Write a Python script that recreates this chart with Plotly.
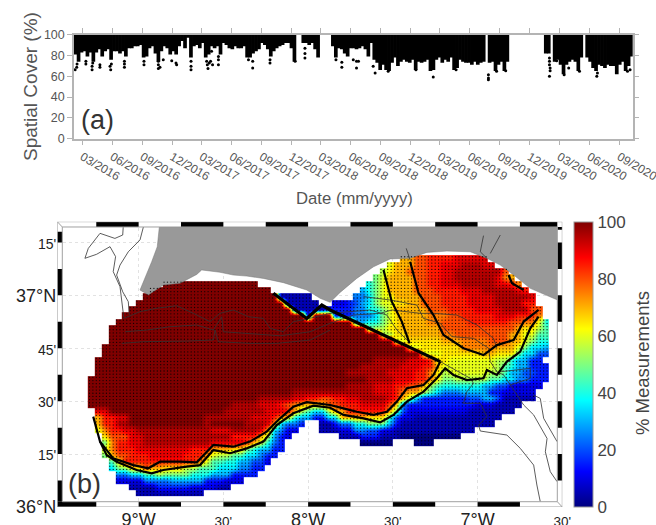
import datetime as dt
import plotly.graph_objects as go

FONT = "Liberation Sans"
GREY = "#555555"
EDGE = "#b4b4b4"

# ---------- panel (a): spatial cover time series ----------
tick_dates = ["2016-03-01","2016-06-01","2016-09-01","2016-12-01","2017-03-01","2017-06-01","2017-09-01",
              "2017-12-01","2018-03-01","2018-06-01","2018-09-01","2018-12-01","2019-03-01","2019-06-01",
              "2019-09-01","2019-12-01","2020-03-01","2020-06-01","2020-09-01"]
tick_labels = ["03/2016","06/2016","09/2016","12/2016","03/2017","06/2017","09/2017","12/2017","03/2018",
               "06/2018","09/2018","12/2018","03/2019","06/2019","09/2019","12/2019","03/2020","06/2020","09/2020"]
N = None
cover_low = [81,74,83,84,79,83,74,83,86,79,84,86,76,84,84,82,84,79,87,87,89,89,90,78,79,87,89,82,74,84,89,87,81,84,81,89,94,87,97,78,89,90,87,92,78,81,
             89,87,89,81,92,90,87,86,89,87,87,89,78,78,82,84,86,92,90,86,79,84,87,89,90,92,92,87,74,N,N,92,92,90,92,86,78,N,N,N,N,89,78,87,86,82,79,
             87,87,86,87,89,86,79,92,76,73,66,71,66,65,73,78,70,74,76,74,73,76,66,74,73,74,76,65,66,76,78,73,76,74,78,66,68,76,74,73,73,71,74,71,73,74,N,
             73,74,65,71,74,65,74,N,N,N,N,N,N,N,N,N,N,N,N,82,82,N,74,76,71,62,71,74,76,74,65,78,N,78,74,68,65,71,70,68,71,70,70,62,71,74,65,70,79]
first_day = -25.0   # days relative to 2016-03-01
last_day = 1687.0
outlier_day = [-22,-17,-16,11,11,30,30,32,54,54,85,87,89,129,129,129,189,189,233,233,233,238,248,274,287,289,333,333,333,381,383,385,389,
               396,393,399,417,417,417,509,522,522,575,575,652,682,682,682,777,795,795,
               830,840,840,846,891,897,937,1022,1075,1145,1244,1244,1244,
               1431,1431,1431,1433,1433,1431,1476,1453,1490,1576,1578,1523,1670,1678,1269,1297]
outlier_val = [66.4,68.6,71.8,74.4,71.8,69.6,66.4,72.8,71.2,68.6,69.6,66.4,71.8,74.4,71.8,68.6,74.4,71.2,74.4,71.2,67.4,68.6,76,75,72.8,71.2,74.4,69.6,66.4,74.4,71.2,67.4,72.8,
               84,74.4,71.2,79,76,71.2,76,74.4,68,76,72.8,74.4,87,82,77.6,76,73.4,68.6,
               76,74.4,68,74.4,69.6,63.2,64.8,66.4,59.4,66.4,61.6,58.4,56.8,
               77.6,74.4,71.2,68,65.4,60,61.6,75,68,60,63.2,64.8,64.8,66.4,64.8,65.4]

# ---------- panel (b): percentage of measurements, digitised cell runs (fill up to column : code) ----------
lon_start = -9.30
lon_step = 0.04
lat_start = 37.175
lat_step = -0.03
n_cols = 68
codes = "0123456789ABCDEFGHIJK"   # each code = 5 % step
cover_rows = [
"46:. 48:E 50:G 54:H 59:I",
"44:. 45:C 48:E 50:G 52:H 55:I 58:J 60:I",
"43:. 44:B 45:D 47:E 50:G 52:H 54:I 56:J 61:J 62:G",
"42:. 43:A 44:C 48:E 50:G 52:H 54:I 60:J 61:I 62:F 63:E",
"11:. 25:K 41:. 42:8 43:A 44:C 48:E 50:G 52:H 55:I 60:J 62:I 63:H 64:F",
"9:. 27:K 40:. 41:6 42:8 43:A 44:C 48:E 51:G 55:H 58:I 63:J 64:I 65:H",
"8:. 28:K 33:1 39:. 41:5 42:7 43:A 45:C 49:E 52:G 56:H 60:I 65:J 66:I",
"7:. 29:K 34:1 36:. 38:2 39:3 40:4 41:6 42:7 43:A 45:C 47:D 49:E 52:G 56:H 60:I 64:J 66:H",
"6:. 30:K 35:1 39:3 41:5 43:8 44:A 45:C 50:E 53:G 57:H 61:I 65:J 67:G",
"5:. 32:K 33:1 36:K 39:3 42:5 43:7 44:A 45:C 46:D 50:E 53:F 55:G 60:H 63:I 66:H 67:F",
"4:. 39:K 41:6 43:8 44:A 45:C 46:D 50:E 52:F 56:G 59:H 62:H 64:G 66:F 67:C 68:8",
"3:. 41:K 42:9 44:B 46:D 52:E 54:G 63:G 64:E 66:D 67:B 68:9",
"3:. 43:K 45:B 47:D 52:E 54:F 62:G 64:E 66:C 68:9",
"3:. 45:K 47:C 52:D 55:E 59:F 62:G 64:E 65:C 66:A 68:8",
"2:. 47:K 49:C 55:D 60:F 63:E 64:C 65:A 67:7 68:6",
"2:. 49:K 52:C 58:D 60:E 63:D 64:A 66:7 68:4",
"1:. 42:K 47:J 50:I 51:H 53:D 60:C 62:B 63:8 65:6 67:3",
"1:. 40:K 46:J 49:I 51:H 52:E 53:C 60:C 61:B 62:9 63:8 65:6 68:3",
"1:. 38:K 44:J 48:I 50:H 51:F 52:D 53:B 59:C 61:B 62:9 64:6 66:4 68:3",
"41:K 45:J 48:I 50:H 51:F 52:D 54:A 59:B 61:9 63:7 65:5 68:3",
"38:K 42:J 45:I 47:H 49:G 50:E 51:B 52:9 58:8 60:6 62:4 67:2",
"30:K 36:J 42:J 45:I 46:H 47:F 49:E 50:B 51:9 52:7 55:5 59:6 61:3 66:2",
"25:K 30:J 32:I 34:H 36:G 38:H 40:I 44:J 45:I 46:H 47:E 48:B 49:6 56:3 58:4 60:6 61:4 66:1",
"21:K 25:J 28:I 29:H 30:G 31:F 35:E 37:G 40:H 44:I 45:G 46:E 47:5 57:3 60:2 64:1",
"1:. 3:I 20:K 26:J 29:I 30:H 31:E 32:B 33:9 35:7 36:B 38:E 44:H 45:E 46:A 47:4 56:2 63:1",
"1:. 2:E 4:H 6:I 17:K 24:J 27:I 28:H 29:F 30:D 31:8 33:6 35:3 37:7 41:E 44:D 45:8 46:4 48:2 61:1",
"1:. 2:E 4:H 6:J 17:K 18:J 23:K 26:J 27:I 28:F 29:7 31:5 32:3 34:. 36:1 37:3 39:5 41:8 44:A 45:6 46:3 60:1",
"1:. 2:C 3:F 5:H 7:I 18:J 21:I 25:J 26:I 27:E 28:7 29:5 31:2 34:. 37:1 39:2 41:5 43:4 45:2 57:1",
"2:. 3:D 6:G 8:I 21:J 25:H 26:E 27:B 28:6 29:3 30:2 37:. 40:1 43:3 46:1 55:0",
"2:. 3:A 4:F 6:H 8:I 18:J 23:I 24:H 25:E 26:C 27:8 28:5 29:3 40:. 45:0 48:. 51:0",
"2:. 3:C 4:F 7:H 15:I 18:H 21:E 23:D 24:A 25:8 27:6 29:3",
"2:. 3:A 4:E 6:G 9:H 14:I 17:H 18:E 19:C 21:B 23:9 25:7 26:5 28:3",
"3:. 4:9 5:D 7:H 16:H 17:F 18:C 20:9 22:8 24:6 26:4 27:2",
"3:. 4:7 6:A 8:D 9:G 11:E 14:D 16:B 19:9 22:7 24:5 26:3",
"4:. 6:5 8:7 10:9 11:B 15:A 18:8 21:6 25:3",
"4:. 8:2 12:5 17:6 20:3 23:2",
"6:. 10:1 15:3 19:2 21:1",
"7:. 17:1",
]

land_lon = [-8.878,-8.89,-8.923,-8.953,-8.992,-8.943,-8.854,-8.756,-8.657,-8.628,-8.52,-8.441,-8.362,-8.264,-8.146,-8.008,-7.929,-7.87,
            -7.811,-7.713,-7.614,-7.516,-7.398,-7.299,-7.181,-7.043,-6.945,-6.866,-6.787,-6.689,-6.528,-6.528,-8.878]
land_lat = [37.323,37.23,37.159,37.104,37.025,37.002,37.049,37.057,37.099,37.12,37.109,37.096,37.091,37.08,37.06,37.025,36.986,36.967,
            37.014,37.08,37.135,37.172,37.175,37.203,37.209,37.206,37.175,37.143,37.096,37.033,36.978,37.323,37.323]

# thick contour lines (lon list, lat list)
thick_lines = [
 ([-9.268,-9.228,-9.15,-9.031,-8.943,-8.874,-8.756,-8.657,-8.559,-8.441,-8.343,-8.244,-8.165,-8.087,-8.008,-7.87,-7.791,-7.713,-7.614,-7.535,-7.476,-7.417,-7.319,-7.26,-7.22],
  [36.427,36.309,36.23,36.198,36.183,36.214,36.214,36.211,36.293,36.285,36.309,36.356,36.419,36.474,36.495,36.482,36.466,36.45,36.435,36.45,36.498,36.561,36.576,36.624,36.687]),
 ([-9.228,-9.189,-9.13,-9.012,-8.923,-8.854,-8.717,-8.638,-8.559,-8.461,-8.362,-8.264,-8.185,-8.087,-7.969,-7.87,-7.791,-7.673,-7.575,-7.496,-7.417,-7.319,-7.24,-7.191,-7.142,-7.063,-6.965,-6.945,-6.886,-6.827,-6.748,-6.689,-6.64],
  [36.309,36.246,36.214,36.175,36.159,36.175,36.191,36.198,36.269,36.254,36.277,36.309,36.387,36.443,36.479,36.469,36.435,36.419,36.4,36.435,36.498,36.545,36.608,36.655,36.624,36.6,36.608,36.647,36.624,36.687,36.734,36.844,36.899]),
 ([-7.555,-7.506,-7.447,-7.401],[37.12,36.97,36.876,36.773]),
 ([-7.398,-7.348,-7.26,-7.201,-7.083,-6.965,-6.886,-6.787,-6.728,-6.64],[37.159,37.01,36.907,36.813,36.75,36.718,36.765,36.789,36.876,36.931]),
 ([-6.817,-6.797,-6.728],[37.096,37.057,37.025]),
]
diagonal_lon = [-8.205,-8.008,-7.919,-7.87,-7.22]
diagonal_lat = [37.01,36.891,36.954,36.931,36.687]
# thin boundary lines
thin_lines = [
 ([-9.091,-9.094,-9.14,-9.228,-9.297,-9.317,-9.248,-9.169,-9.136,-9.15,-9.11,-9.1,-9.087],[37.323,37.285,37.269,37.293,37.222,37.175,37.194,37.23,37.183,37.112,37.041,36.97,36.891]),
 ([-8.972,-8.992,-9.061,-9.11,-9.13,-9.094,-9.061,-9.055],[37.323,37.262,37.206,37.143,37.096,37.017,36.97,36.907]),
 ([-9.087,-8.992,-8.894,-8.776,-8.677,-8.579,-8.52,-8.441,-8.352,-8.264,-8.224,-8.146,-8.087,-8.008,-7.87,-7.752,-7.634,-7.535,-7.476,-7.406],
  [36.891,36.923,36.939,36.951,36.915,36.876,36.915,36.931,36.899,36.891,36.844,36.828,36.876,36.888,36.915,36.923,36.931,36.907,36.836,36.781]),
 ([-9.081,-8.953,-8.815,-8.657,-8.559,-8.51,-8.5,-8.362,-8.165,-7.988,-7.87,-7.732,-7.575,-7.506,-7.339,-7.26,-7.122,-7.004,-6.906,-6.886],
  [36.828,36.836,36.852,36.86,36.836,36.899,36.828,36.82,36.809,36.828,36.868,36.907,36.915,36.931,36.915,36.915,36.907,36.86,36.797,36.75]),
 ([-9.1,-8.972,-8.717,-8.559,-8.549,-8.53,-8.343,-8.185,-7.988,-7.87],[36.773,36.781,36.784,36.789,36.836,36.781,36.773,36.773,36.789,36.836]),
 ([-7.673,-7.516,-7.358,-7.319,-7.22,-7.152,-7.024,-6.935,-6.925,-6.886,-6.846,-6.728,-6.669,-6.59,-6.6,-6.571,-6.531],
  [36.994,36.978,36.954,36.891,36.868,36.805,36.797,36.75,36.687,36.639,36.624,36.482,36.435,36.324,36.261,36.167,36.12]),
 ([-7.22,-7.043,-7.024,-7.063,-7.083,-6.984,-6.945,-6.994,-6.984,-6.827,-6.748,-6.669,-6.65,-6.63],
  [36.687,36.608,36.584,36.545,36.49,36.49,36.427,36.387,36.359,36.34,36.277,36.198,36.104,36.025]),
 ([-6.866,-6.689,-6.689,-6.807],[36.639,36.655,36.608,36.576]),
 ([-6.669,-6.63,-6.61,-6.531],[36.529,36.513,36.419,36.309]),
 ([-7.421,-7.398],[37.222,37.167]),
 ([-6.965,-6.984,-6.945],[37.282,37.206,37.175]),
 ([-6.866,-6.925],[37.285,37.198]),
]

lon_ticks = [-9,-8.5,-8,-7.5,-7,-6.5]
lon_labels = ["9°W","30'","8°W","30'","7°W","30'"]
lat_ticks = [36,36.25,36.5,36.75,37,37.25]
lat_labels = ["36°N","15'","30'","45'","37°N","15'"]
frame_top = [(-9.25,-9),(-8.75,-8.5),(-8.25,-8),(-7.75,-7.5),(-7.25,-7),(-6.75,-6.5)]
frame_bottom = [(-9.48,-9.25),(-9,-8.75),(-8.5,-8.25),(-8,-7.75),(-7.5,-7.25),(-7,-6.75)]
frame_left = [(37.25,37.30),(37,37.125),(36.75,36.875),(36.5,36.625),(36.25,36.375),(36.0,36.125)]
frame_right = [(37.31,37.348),(37.125,37.25),(36.875,37),(36.625,36.75),(36.375,36.5),(36.125,36.25)]

LON_RANGE = [-9.48,-6.5]
LAT_RANGE = [36,37.348]
W, H = 656, 525
AX_A = (74.0,632.7,34.7,138.7)
AX_B = (57.3,562.3,221.7,507.0)

jet = [[0,"#00007f"],[0.125,"#0000ff"],[0.375,"#00ffff"],[0.625,"#ffff00"],[0.875,"#ff0000"],[1,"#7f0000"]]

# decode the cell runs
z = []
for row in cover_rows:
    cells = [None]*n_cols
    pos = 0
    for tok in row.split():
        end, c = tok.split(":")
        end = int(end)
        for i in range(pos,end):
            cells[i] = None if c=="." else codes.index(c)*5
        pos = end
    z.append(cells)
lons = [lon_start+lon_step*(i+0.5) for i in range(n_cols)]
lats = [lat_start+lat_step*j for j in range(len(cover_rows))]

dot_x, dot_y = [], []
for j,row in enumerate(z):
    for i,v in enumerate(row):
        if v is not None:
            for dx in (-0.01,0.01):
                for dy in (-0.0075,0.0075):
                    dot_x.append(round(lons[i]+dx,4)); dot_y.append(round(lats[j]+dy,4))

base = dt.datetime(2016,3,1)
step = (last_day-first_day)/len(cover_low)
band_x = [base+dt.timedelta(days=first_day+step*(k+0.5)) for k in range(len(cover_low))]
band_base = cover_low
band_h = [None if v is None else 100-v for v in cover_low]
out_x = [base+dt.timedelta(days=d) for d in outlier_day]

fig = go.Figure()
fig.add_trace(go.Bar(x=band_x,y=band_h,base=band_base,width=step*86400000*1.25,marker=dict(color="black",line=dict(width=0)),xaxis="x",yaxis="y",showlegend=False))
fig.add_trace(go.Scatter(x=out_x,y=outlier_val,mode="markers",marker=dict(color="black",size=3),xaxis="x",yaxis="y",showlegend=False))

fig.add_trace(go.Scatter(x=land_lon,y=land_lat,mode="lines",fill="toself",fillcolor="#999999",line=dict(width=0.5,color="#777777"),xaxis="x2",yaxis="y2",showlegend=False))
fig.add_trace(go.Heatmap(x=lons,y=lats,z=z,zmin=0,zmax=100,colorscale=jet,xaxis="x2",yaxis="y2",hoverongaps=False,zsmooth="best",
    colorbar=dict(x=573.7/W,xanchor="left",xpad=0,ypad=0,thickness=19.3,thicknessmode="pixels",lenmode="fraction",len=(AX_B[3]-AX_B[2])/H,
                  y=1-AX_B[3]/H,yanchor="bottom",ticks="",tickvals=[0,20,40,60,80,100],outlinecolor="#999999",outlinewidth=1,
                  tickfont=dict(size=17,color="#444444",family=FONT))))
fig.add_trace(go.Scatter(x=dot_x,y=dot_y,mode="markers",marker=dict(color="black",size=1.3,line=dict(width=0)),opacity=0.85,xaxis="x2",yaxis="y2",showlegend=False))
for lx,ly in thin_lines:
    fig.add_trace(go.Scatter(x=lx,y=ly,mode="lines",line=dict(color="#333333",width=0.8),xaxis="x2",yaxis="y2",showlegend=False))
for lx,ly in thick_lines:
    fig.add_trace(go.Scatter(x=lx,y=ly,mode="lines",line=dict(color="black",width=2.2),xaxis="x2",yaxis="y2",showlegend=False))
fig.add_trace(go.Scatter(x=diagonal_lon,y=diagonal_lat,mode="lines",line=dict(color="black",width=3.2),xaxis="x2",yaxis="y2",showlegend=False))

shapes = []
inx = 0.0295
iny = 0.025
def rect(x0,x1,y0,y1,color="black"):
    shapes.append(dict(type="rect",xref="x2",yref="y2",x0=x0,x1=x1,y0=y0,y1=y1,fillcolor=color,line=dict(width=0),layer="above"))
rect(LON_RANGE[0],LON_RANGE[1],LAT_RANGE[1]-iny,LAT_RANGE[1],"white")
rect(LON_RANGE[0],LON_RANGE[1],LAT_RANGE[0],LAT_RANGE[0]+iny,"white")
rect(LON_RANGE[0],LON_RANGE[0]+inx,LAT_RANGE[0],LAT_RANGE[1],"white")
rect(LON_RANGE[1]-inx,LON_RANGE[1],LAT_RANGE[0],LAT_RANGE[1],"white")
for a,b in frame_top:
    rect(a,min(b,LON_RANGE[1]-inx),LAT_RANGE[1]-iny,LAT_RANGE[1])
for a,b in frame_bottom:
    rect(a,b,LAT_RANGE[0],LAT_RANGE[0]+iny)
for a,b in frame_left:
    rect(LON_RANGE[0],LON_RANGE[0]+inx,max(a,LAT_RANGE[0]+iny),b)
for a,b in frame_right:
    rect(LON_RANGE[1]-inx,LON_RANGE[1],max(a,LAT_RANGE[0]+iny),min(b,LAT_RANGE[1]-iny))
for x0,x1,y0,y1 in [(LON_RANGE[0],LON_RANGE[1],LAT_RANGE[0],LAT_RANGE[1]),
                    (LON_RANGE[0]+inx,LON_RANGE[1]-inx,LAT_RANGE[0]+iny,LAT_RANGE[1]-iny)]:
    shapes.append(dict(type="rect",xref="x2",yref="y2",x0=x0,x1=x1,y0=y0,y1=y1,line=dict(color="#a0a0a0",width=1),layer="above"))
for x0,x1,y0,y1 in [(LON_RANGE[0],LON_RANGE[0]+inx,LAT_RANGE[1],LAT_RANGE[1]-iny),
                    (LON_RANGE[1],LON_RANGE[1]-inx,LAT_RANGE[0],LAT_RANGE[0]+iny)]:
    shapes.append(dict(type="line",xref="x2",yref="y2",x0=x0,x1=x1,y0=y0,y1=y1,line=dict(color="#a0a0a0",width=1),layer="above"))

def lab(text,size):
    return f'<span style="font-size:{size}px">{text}</span>'

def ann(text,x,y,size,color=GREY,angle=0):
    return dict(text=text,x=x/W,y=1-y/H,xref="paper",yref="paper",showarrow=False,textangle=angle,
                font=dict(size=size,color=color,family=FONT),xanchor="center",yanchor="middle")

fig.update_layout(
    width=W,height=H,margin=dict(l=0,r=0,t=0,b=0,autoexpand=False),paper_bgcolor="white",plot_bgcolor="white",
    font=dict(family=FONT,color=GREY),barmode="overlay",showlegend=False,
    xaxis=dict(domain=[AX_A[0]/W,AX_A[1]/W],range=[base+dt.timedelta(days=-25.4),base+dt.timedelta(days=1686)],type="date",
               tickvals=tick_dates,ticktext=tick_labels,tickangle=30,ticks="outside",ticklen=5,tickcolor=EDGE,ticklabeloverflow="allow",
               showline=True,linecolor=EDGE,linewidth=1.5,mirror="all",showgrid=False,tickfont=dict(size=12,color=GREY,family=FONT),anchor="y"),
    yaxis=dict(domain=[1-AX_A[3]/H,1-AX_A[2]/H],range=[0,100],tickvals=[0,20,40,60,80,100],ticks="outside",ticklen=5,tickcolor=EDGE,
               showline=True,linecolor=EDGE,linewidth=1.5,mirror="all",showgrid=False,zeroline=False,tickfont=dict(size=12.5,color=GREY,family=FONT),anchor="x"),
    xaxis2=dict(domain=[AX_B[0]/W,AX_B[1]/W],range=LON_RANGE,tickvals=lon_ticks,ticklabeloverflow="allow",
                ticktext=[lab(t,18 if "W" in t else 13.5) for t in lon_labels],ticks="",showgrid=True,gridcolor="#e2e2e2",griddash="dot",gridwidth=1,
                zeroline=False,tickfont=dict(size=18,color="#222222",family=FONT),anchor="y2"),
    yaxis2=dict(domain=[1-AX_B[3]/H,1-AX_B[2]/H],range=LAT_RANGE,tickvals=lat_ticks,ticklabeloverflow="allow",
                ticktext=[lab(t,18 if "N" in t else 14) for t in lat_labels],ticks="",showgrid=True,gridcolor="#e2e2e2",griddash="dot",gridwidth=1,
                zeroline=False,tickfont=dict(size=18,color="#222222",family=FONT),anchor="x2"),
    shapes=shapes,
    annotations=[
        ann("Spatial Cover (%)",30,87,19,GREY,-90),
        ann("Date (mm/yyyy)",354,198,16.7,GREY),
        ann("(a)",97,120,27,"#333333"),
        ann("(b)",84,484,27,"#333333"),
        ann("% Measurements",642,363,18.5,"#444444",-90),
    ],
)
fig.write_html("out.html",config={"displayModeBar":False},post_script="document.body.style.margin='0';document.documentElement.style.overflow='hidden';")
